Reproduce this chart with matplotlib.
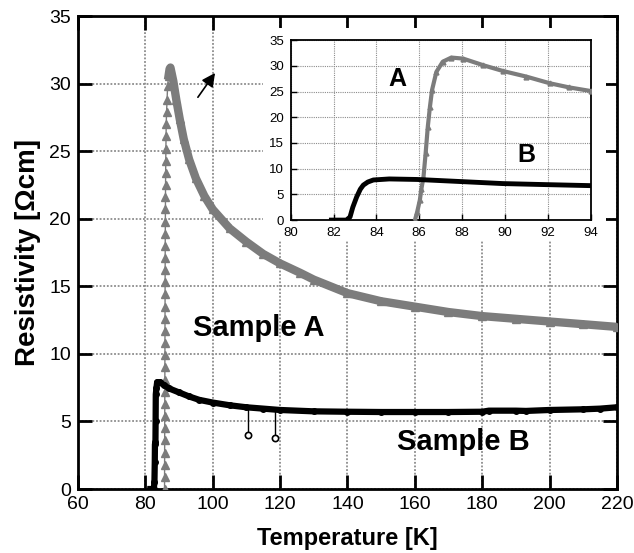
import numpy as np
from matplotlib import pyplot as plt
from matplotlib import font_manager
from matplotlib.patches import Rectangle
import matplotlib as mpl

# --- data ---
# sample A, main panel (temperature K, resistivity Ohm cm)
temp_a = [85.70, 85.71, 85.72, 85.73, 85.74, 85.75, 85.76, 85.77, 85.78, 85.79,
          85.80, 85.81, 85.82, 85.83, 85.84, 85.85, 85.86, 85.87, 85.88, 85.89,
          85.90, 85.92, 85.94, 85.96, 85.98, 86.00, 86.03, 86.06, 86.10, 86.15,
          86.20, 86.30, 86.45, 86.6, 86.9, 87.2, 87.45,
          88.3, 89.2, 90.2, 91.4, 93.0, 95.0, 97.5, 100.0, 105.0, 110.0, 115.0,
          120.0, 126.0, 130.0, 140.0, 150.0, 160.0, 170.0, 180.0, 190.0, 200.0,
          210.0, 220.0]
rho_a = [0.0, 0.9, 1.8, 2.7, 3.6, 4.5, 5.4, 6.3, 7.2, 8.1,
         9.0, 9.9, 10.8, 11.7, 12.6, 13.5, 14.4, 15.3, 16.2, 17.1,
         18.0, 18.9, 19.8, 20.7, 21.6, 22.5, 23.4, 24.3, 25.2, 26.1,
         27.0, 27.9, 28.8, 29.8, 30.6, 31.1, 31.2,
         30.2, 28.8, 27.4, 25.9, 24.4, 23.0, 21.7, 20.7, 19.3, 18.3, 17.4,
         16.7, 16.0, 15.5, 14.5, 13.9, 13.5, 13.1, 12.8, 12.6, 12.4,
         12.2, 12.0]
peak_a = 34  # the dense band starts near the top of the rise

# sample B, main panel
temp_b = [81.5, 82.0, 82.5, 82.7, 82.8, 82.85, 83.0, 83.05, 83.1, 83.3,
          83.5, 84.3, 85.5, 87.0, 90.0, 93.0, 96.0, 100.0, 105.0, 110.0,
          115.0, 120.0, 130.0, 140.0, 150.0, 160.0, 170.0, 180.0, 182.0, 190.0,
          193.0, 200.0, 210.0, 215.0, 220.0]
rho_b = [0.0, 0.0, 0.0, 0.5, 2.0, 3.3, 3.5, 5.0, 7.0, 7.5,
         7.9, 7.9, 7.7, 7.45, 7.15, 6.85, 6.6, 6.4, 6.2, 6.05,
         5.95, 5.85, 5.75, 5.72, 5.7, 5.7, 5.7, 5.72, 5.8, 5.8,
         5.78, 5.85, 5.9, 5.95, 6.05]
# two stray points of sample B
temp_b_out = [110.5, 118.5]
rho_b_out = [4.0, 3.8]

# inset, 80-94 K
temp_a_in = [85.8, 85.9, 86.03, 86.1, 86.2, 86.3, 86.4, 86.5, 86.6, 86.8,
             87.1, 87.5, 88.05, 89.0, 89.9, 91.0, 92.1, 93.0, 94.0]
rho_a_in = [0.0, 1.5, 3.9, 6.0, 8.4, 13.0, 18.1, 22.0, 25.3, 28.8,
            30.8, 31.6, 31.4, 30.1, 29.0, 27.9, 26.6, 25.8, 25.1]
temp_b_in = [81.9, 82.3, 82.6, 82.77, 82.9, 83.08, 83.25, 83.39, 83.6, 83.86,
             84.6, 85.9, 87.9, 89.9, 91.9, 94.0]
rho_b_in = [0.0, 0.0, 0.0, 0.6, 2.5, 4.5, 6.0, 6.8, 7.4, 7.8,
            8.0, 7.9, 7.5, 7.1, 6.9, 6.7]

xticks_main = [60, 80, 100, 120, 140, 160, 180, 200, 220]
yticks_main = [0, 5, 10, 15, 20, 25, 30, 35]
xticks_in = [80, 82, 84, 86, 88, 90, 92, 94]
yticks_in = [0, 5, 10, 15, 20, 25, 30, 35]

names = {f.name for f in font_manager.fontManager.ttflist}
narrow = "Liberation Sans Narrow" if "Liberation Sans Narrow" in names else "Liberation Sans"
mpl.rcParams["font.family"] = ["Liberation Sans", "DejaVu Sans"]

gray = "#7c7c7c"
gridkw = dict(color="#8c8c8c", ls=(0, (1, 1)), lw=1.3)

fig = plt.figure(figsize=(6.34, 5.53), dpi=100)
ax = fig.add_axes([0.123, 0.1157, 0.850, 0.855])

# sample A: markers along the whole curve, thick band after the peak
ax.plot(temp_a, rho_a, color=gray, lw=1, marker="^", ms=6, mec=gray, mfc=gray, zorder=3)
ax.plot(temp_a[peak_a:], rho_a[peak_a:], color=gray, lw=6, zorder=3)
# sample B
ax.plot(temp_b, rho_b, color="black", lw=4.5, marker="o", ms=4, zorder=4)
base = np.interp(temp_b_out, temp_b, rho_b)
ax.vlines(temp_b_out, rho_b_out, base, color="black", lw=1, zorder=4)
ax.plot(temp_b_out, rho_b_out, ls="none", marker="o", ms=4.5, mfc="white", mec="black", mew=1.2, zorder=5)

ax.annotate("", xy=(100.7, 30.8), xytext=(95.6, 29.0),
            arrowprops=dict(arrowstyle="-|>", color="black", lw=1.2, mutation_scale=20,
                            shrinkA=0, shrinkB=0))

ax.text(113.7, 11.9, "Sample A", fontsize=21, fontweight="bold", ha="center", va="center")
ax.text(174.3, 3.5, "Sample B", fontsize=21, fontweight="bold", ha="center", va="center")

ax.set_xlim(60, 220)
ax.set_ylim(0, 35)
ax.set_xticks(xticks_main)
ax.set_yticks(yticks_main)
ax.grid(True, **gridkw)
ax.set_axisbelow(True)
ax.tick_params(direction="in", length=10, width=2, top=True, right=True, pad=5)
for lab in ax.get_xticklabels() + ax.get_yticklabels():
    lab.set_family(narrow)
    lab.set_fontsize(14)
for s in ax.spines.values():
    s.set_linewidth(2)
ax.set_xlabel("Temperature [K]", fontsize=17, fontweight="bold", labelpad=10)
ax.set_ylabel("Resistivity [\u03a9cm]", fontsize=20, fontweight="bold", labelpad=6)

# white patch under the inset
ax.add_patch(Rectangle((0.4148, 0.566), 0.541, 0.3834, transform=fig.transFigure,
                       facecolor="white", edgecolor="none", zorder=6))

axin = fig.add_axes([0.4585, 0.602, 0.473, 0.3255])
axin.set_zorder(7)
axin.plot(temp_a_in, rho_a_in, color=gray, lw=3, marker="^", ms=3.5, zorder=3)
axin.plot(temp_b_in, rho_b_in, color="black", lw=3.5, zorder=3)
axin.text(85.0, 27.5, "A", fontsize=18, fontweight="bold", ha="center", va="center")
axin.text(91.0, 12.6, "B", fontsize=18, fontweight="bold", ha="center", va="center")
axin.set_xlim(80, 94)
axin.set_ylim(0, 35)
axin.set_xticks(xticks_in)
axin.set_yticks(yticks_in)
axin.grid(True, color="#8c8c8c", ls=(0, (1, 1)), lw=0.8)
axin.set_axisbelow(True)
axin.tick_params(direction="in", length=4, width=1)
axin.tick_params(axis="x", pad=5)
axin.tick_params(axis="y", pad=5)
for lab in axin.get_xticklabels() + axin.get_yticklabels():
    lab.set_family(narrow)
    lab.set_fontsize(9.5)
for s in axin.spines.values():
    s.set_linewidth(1.3)

plt.savefig("out.png", dpi=100)
